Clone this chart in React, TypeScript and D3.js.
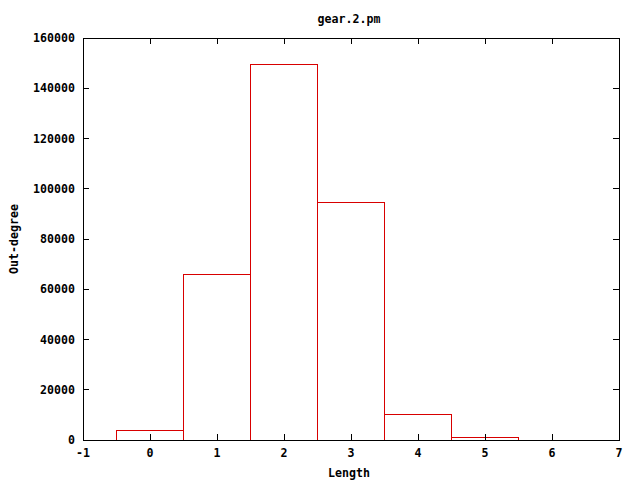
import React from "react";
import * as d3 from "d3";

const lengths = [0, 1, 2, 3, 4, 5];
const outDegree = [3600, 66000, 149500, 94600, 10300, 800];
const xTicks = [-1, 0, 1, 2, 3, 4, 5, 6, 7];
const yTicks = [0, 20000, 40000, 60000, 80000, 100000, 120000, 140000, 160000];

const W = 640, H = 480;
const L = 83, R = 619, T = 38, B = 440;
const font = "'DejaVu Sans Mono', monospace";
const fs = 11.6;

export default function App() {
  const x = d3.scaleLinear().domain([-1, 7]).range([L, R]);
  const y = d3.scaleLinear().domain([0, 160000]).range([B, T]);
  const tl = 6;
  return (
    <svg width={W} height={H} style={{ position: "absolute", left: 0, top: 0, background: "#fff" }}>
      <rect x={0} y={0} width={W} height={H} fill="#fff" />
      <text x={349} y={23} textAnchor="middle" fontFamily={font} fontWeight="bold" fontSize={fs}>gear.2.pm</text>
      {lengths.map((l, i) => (
        <rect key={i} x={x(l - 0.5)} y={y(outDegree[i])} width={x(l + 0.5) - x(l - 0.5)} height={B - y(outDegree[i])}
          fill="none" stroke="#d80000" strokeWidth={1} shapeRendering="crispEdges" />
      ))}
      {xTicks.map((t) => (
        <g key={"x" + t}>
          <line x1={x(t)} x2={x(t)} y1={B} y2={B - tl} stroke="#000" shapeRendering="crispEdges" />
          <line x1={x(t)} x2={x(t)} y1={T} y2={T + tl} stroke="#000" shapeRendering="crispEdges" />
          <text x={x(t)} y={457} textAnchor="middle" fontFamily={font} fontWeight="bold" fontSize={fs}>{t}</text>
        </g>
      ))}
      {yTicks.map((t) => (
        <g key={"y" + t}>
          <line x1={L} x2={L + tl} y1={y(t)} y2={y(t)} stroke="#000" shapeRendering="crispEdges" />
          <line x1={R} x2={R - tl} y1={y(t)} y2={y(t)} stroke="#000" shapeRendering="crispEdges" />
          <text x={75} y={y(t) + 4} textAnchor="end" fontFamily={font} fontWeight="bold" fontSize={fs}>{t}</text>
        </g>
      ))}
      <rect x={L} y={T} width={R - L} height={B - T} fill="none" stroke="#000" strokeWidth={1} shapeRendering="crispEdges" />
      <text x={349} y={477} textAnchor="middle" fontFamily={font} fontWeight="bold" fontSize={fs}>Length</text>
      <text transform={`translate(18,239) rotate(-90)`} textAnchor="middle" fontFamily={font} fontWeight="bold" fontSize={fs}>Out-degree</text>
    </svg>
  );
}
